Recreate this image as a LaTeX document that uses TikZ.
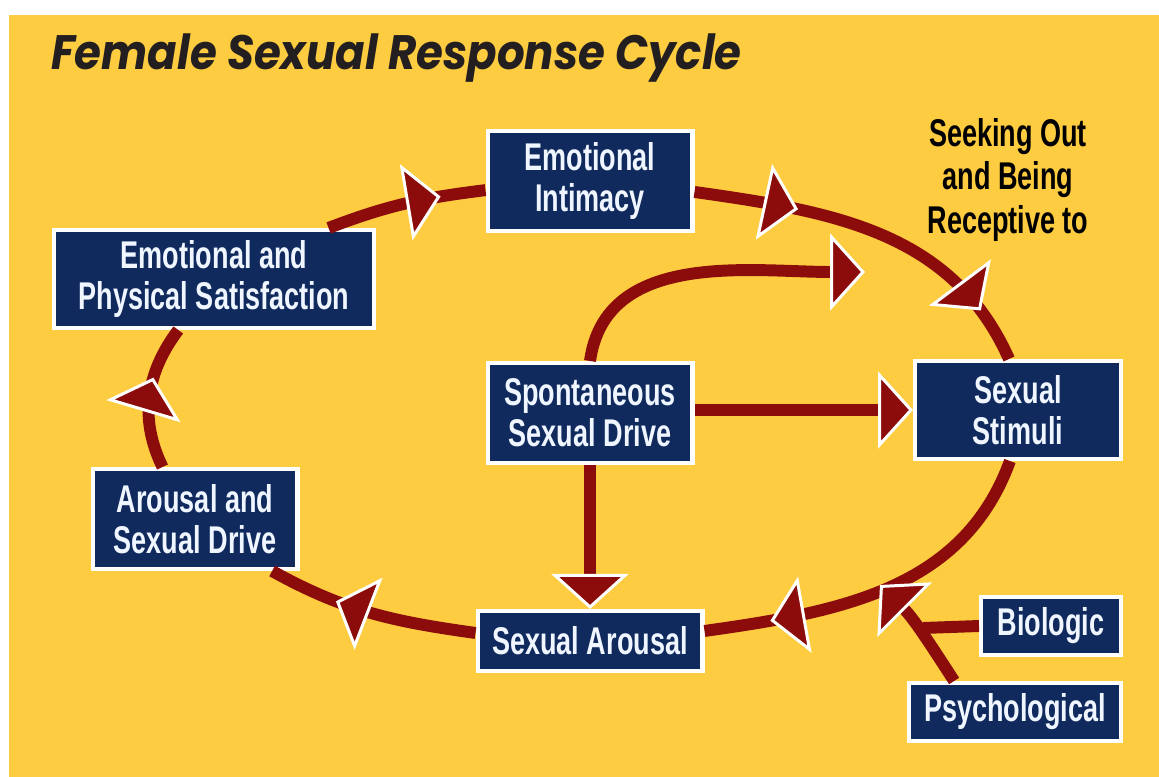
\documentclass[tikz,border=0pt]{standalone}
\usepackage{fontspec}
\usetikzlibrary{arrows.meta,decorations.markings}
\newfontfamily\boxfont[FakeStretch=0.7]{Liberation Sans}
\newfontfamily\titlefont[FakeStretch=0.9]{Poppins}
\definecolor{bgyellow}{RGB}{253,204,64}
\definecolor{flowred}{RGB}{140,12,12}
\definecolor{boxblue}{RGB}{16,42,94}
\definecolor{boxtext}{RGB}{240,246,255}
\definecolor{titleink}{RGB}{35,31,32}
\tikzset{bigtip/.tip={Triangle[length=0.7cm,width=1.54cm,fill=flowred,color=white,line width=1.7pt]}}
\begin{document}
\begin{tikzpicture}[x=0.02cm,y=0.02cm,
		box/.style={rectangle,draw=white,line width=2.3pt,fill=boxblue,text=boxtext,inner sep=0pt,align=center,font=\boxfont\bfseries\fontsize{22}{23.5}\selectfont},
		flow/.style={draw=flowred,line width=6.8pt},
		midtip/.style={postaction={decorate},decoration={markings,mark=at position #1 with {\arrow{bigtip}}}}]
				\useasboundingbox (0,0) rectangle (1159,777);
				\fill[white] (0,0) rectangle (1159,777);
				\fill[bgyellow] (9,0) rectangle (1159,762);
				\node[anchor=base west,text=titleink,font=\titlefont\bfseries\itshape\fontsize{27.5}{29}\selectfont] (title) at (45,707) {Female Sexual Response Cycle};
				\node[box,minimum width=4.1cm,minimum height=2.0cm] (intimacy) at (590,596) {Emotional\\Intimacy};
				\node[box,minimum width=6.4cm,minimum height=1.96cm] (satisfaction) at (214,498) {Emotional and\\Physical Satisfaction};
				\node[box,minimum width=4.1cm,minimum height=2.0cm] (spont) at (590,364) {Spontaneous\\Sexual Drive};
				\node[box,minimum width=4.12cm,minimum height=1.96cm] (stimuli) at (1018,367) {Sexual\\Stimuli};
				\node[box,minimum width=4.1cm,minimum height=2.0cm] (arousdrive) at (195,258) {Arousal and\\Sexual Drive};
				\node[box,minimum width=4.5cm,minimum height=1.2cm] (sexarousal) at (590,136) {Sexual Arousal};
				\node[box,minimum width=2.8cm,minimum height=1.16cm] (biologic) at (1051,151) {Biologic};
				\node[box,minimum width=4.24cm,minimum height=1.16cm] (psych) at (1015,65) {Psychological};
				\node[align=center,text=black,font=\boxfont\bfseries\fontsize{22}{24.8}\selectfont] (seeking) at (1008,597) {Seeking Out\\and Being\\Receptive to};
				\coordinate (looptip) at (865,505);
				\coordinate (inflow) at (880,192);
				\coordinate (merge) at (923,149);
				\path[flow,midtip=0.72] (satisfaction.24) to[out=21,in=187] (intimacy.185.5);
				\path[flow,postaction={decorate},decoration={markings,mark=at position 0.28 with {\arrow{bigtip}},mark=at position 0.85 with {\arrow{bigtip}}}] (intimacy.-6) to[out=-8,in=114] (stimuli.100);
				\path[flow,midtip=0.82] (stimuli.-99) to[out=250,in=8] (sexarousal.5);
				\path[flow,midtip=0.67] (sexarousal.176) to[out=172,in=-29] (arousdrive.-34);
				\path[flow,midtip=0.63] (arousdrive.122) to[out=116,in=233] (satisfaction.235);
				\path[flow,-{bigtip}] (spont.north) to[out=82,in=180] (looptip);
				\path[flow,-{bigtip}] (spont.east |- stimuli.west) -- (stimuli.west);
				\path[flow,-{bigtip}] (spont.south) -- (sexarousal.north);
				\path[flow] (biologic.west) -- (merge);
				\path[flow,-{bigtip}] (psych.153) to[out=123,in=-45] (inflow);
			\end{tikzpicture}
\end{document}
